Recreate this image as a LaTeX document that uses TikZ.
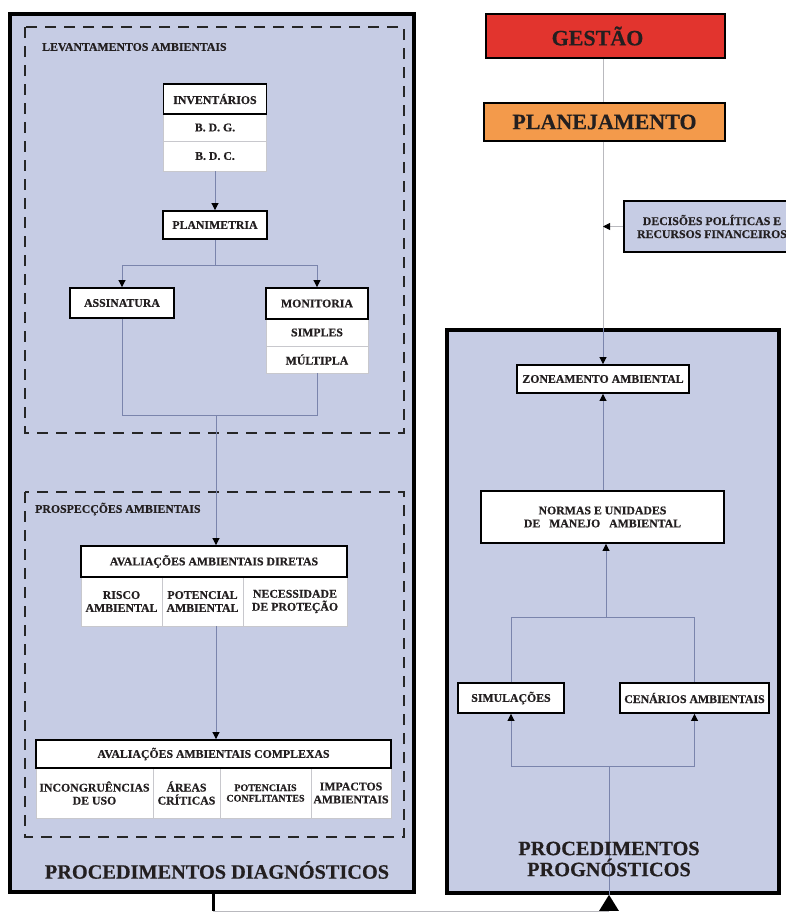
\documentclass[tikz,border=0pt]{standalone}
\usepackage{fontspec}
\setmainfont{Liberation Serif}[BoldFeatures={FakeBold=0.5}]
\usetikzlibrary{arrows.meta}
\definecolor{panelc}{RGB}{198,204,228}
\definecolor{linec}{RGB}{122,132,172}
\definecolor{lightc}{RGB}{185,185,190}
\definecolor{cellc}{RGB}{200,200,205}
\definecolor{textc}{RGB}{35,31,32}
\definecolor{redc}{RGB}{226,52,46}
\definecolor{orangec}{RGB}{243,154,75}
\newcommand\lab{\fontsize{11.8}{13}\selectfont\bfseries}
\newcommand\smalllab{\fontsize{10}{10.5}\selectfont\bfseries}
\newcommand\bigt{\fontsize{20.3}{21}\selectfont\bfseries}
\newcommand\huget{\fontsize{22}{24}\selectfont\bfseries}
\tikzset{
  panel/.style={draw=black, line width=3.5pt, fill=panelc, inner sep=0pt},
  dashbox/.style={draw=black!85, line width=2.4pt, dash pattern=on 11pt off 8pt},
  hbox/.style={draw=black, line width=1.8pt, fill=white, inner sep=0pt, text=textc, font=\lab, align=center},
  cellbox/.style={draw=cellc, line width=0.6pt, fill=white, inner sep=0pt, text=textc, font=\lab, align=center},
  conn/.style={draw=linec, line width=0.7pt},
  connlight/.style={draw=lightc, line width=0.8pt},
  arr/.style={conn, -{Triangle[width=7pt,length=7pt,color=black]}},
  arrlight/.style={connlight, -{Triangle[width=7pt,length=7pt,color=black]}},
  title/.style={inner sep=0pt, text=textc, font=\lab, anchor=west},
  bigtitle/.style={inner sep=0pt, text=textc, font=\bigt, align=center},
}
\begin{document}
\begin{tikzpicture}[x=1pt,y=-1pt]
\clip (0,0) rectangle (786,914);
\fill[white] (0,0) rectangle (786,914);

% panels
\node[panel, minimum width=404pt, minimum height=878pt] (lpanel) at (212,453) {};
\node[panel, minimum width=332pt, minimum height=563pt] (rpanel) at (613,611.5) {};
\draw[dashbox] (25,27) rectangle (404,433);
\draw[dashbox] (25,492) rectangle (404,837);

% titles
\node[title] (t1) at (42,47) {LEVANTAMENTOS AMBIENTAIS};
\node[title] (t2) at (35,509) {PROSPECÇÕES AMBIENTAIS};

% left boxes
\node[cellbox, minimum width=103pt, minimum height=27pt] (bdg) at (215,127.5) {B. D. G.};
\node[cellbox, minimum width=103pt, minimum height=30pt] (bdc) at (215,156) {B. D. C.};
\node[hbox, minimum width=103pt, minimum height=30pt] (inv) at (215,99) {INVENTÁRIOS};
\node[hbox, minimum width=104pt, minimum height=28pt] (plan) at (215,225) {PLANIMETRIA};
\node[hbox, minimum width=104pt, minimum height=30pt] (ass) at (122,303) {ASSINATURA};
\node[cellbox, minimum width=102pt, minimum height=27pt] (simp) at (317,332.5) {SIMPLES};
\node[cellbox, minimum width=102pt, minimum height=27pt] (mult) at (317,359.5) {MÚLTIPLA};
\node[hbox, minimum width=102pt, minimum height=31pt] (mon) at (317,303.5) {MONITORIA};

\node[cellbox, minimum width=81pt, minimum height=49pt] (risco) at (121.5,601.5) {RISCO\\AMBIENTAL};
\node[cellbox, minimum width=81pt, minimum height=49pt] (potamb) at (202.5,601.5) {POTENCIAL\\AMBIENTAL};
\node[cellbox, minimum width=104pt, minimum height=49pt] (necess) at (295,601.5) {NECESSIDADE\\DE PROTEÇÃO};
\node[hbox, minimum width=266pt, minimum height=31pt] (diretas) at (214,561.5) {AVALIAÇÕES AMBIENTAIS DIRETAS};

\node[cellbox, minimum width=117pt, minimum height=50pt] (incong) at (94.5,793) {INCONGRUÊNCIAS\\DE USO};
\node[cellbox, minimum width=67pt, minimum height=50pt] (areas) at (186.5,793) {ÁREAS\\CRÍTICAS};
\node[cellbox, minimum width=91pt, minimum height=50pt, font=\smalllab] (potconf) at (265.5,793) {POTENCIAIS\\CONFLITANTES};
\node[cellbox, minimum width=80pt, minimum height=50pt] (impact) at (351,793) {IMPACTOS\\AMBIENTAIS};
\node[hbox, minimum width=355pt, minimum height=28pt] (compl) at (213.5,754) {AVALIAÇÕES AMBIENTAIS COMPLEXAS};

% right boxes
\node[hbox, fill=redc, font=\huget, minimum width=239pt, minimum height=44pt] (gest) at (605.5,36) {GESTÃO\hspace*{16pt}};
\node[hbox, fill=orangec, font=\huget, minimum width=241pt, minimum height=38pt] (planj) at (604.5,122) {PLANEJAMENTO};
\node[hbox, fill=panelc, minimum width=176pt, minimum height=51pt] (decis) at (712,226.5) {DECISÕES POLÍTICAS E\\RECURSOS FINANCEIROS};
\node[hbox, minimum width=172pt, minimum height=28pt] (zon) at (603,379) {ZONEAMENTO AMBIENTAL};
\node[hbox, minimum width=243pt, minimum height=52pt] (normas) at (602.5,517) {NORMAS E UNIDADES\\DE\ \ \ MANEJO\ \ \ AMBIENTAL};
\node[hbox, minimum width=106pt, minimum height=30pt] (simul) at (511,698) {SIMULAÇÕES};
\node[hbox, minimum width=149pt, minimum height=30pt] (cen) at (694.5,698) {CENÁRIOS AMBIENTAIS};

% left connectors
\coordinate (lsplit) at (215,265);
\coordinate (ljoin) at (216,415);
\draw[arr] (bdc.south) -- (plan.north);
\draw[conn] (plan.south) -- (lsplit);
\draw[arr] (lsplit) -| (ass.north);
\draw[arr] (lsplit) -| (mon.north);
\draw[conn] (ass.south) |- (ljoin);
\draw[conn] (mult.south) |- (ljoin);
\draw[arr] (ljoin) -- (ljoin |- diretas.north);
\draw[arr] (ljoin |- potamb.south) -- (ljoin |- compl.north);

% right connectors
\coordinate (vx) at (603,0);
\draw[connlight] (vx |- gest.south) -- (vx |- planj.north);
\draw[connlight] (vx |- planj.south) -- (vx |- rpanel.north);
\draw[arr] (vx |- rpanel.north) -- (vx |- zon.north);
\draw[arrlight] (decis.west) -- (vx |- decis.west);
\draw[arr] (vx |- normas.north) -- (vx |- zon.south);
\coordinate (rsplit) at (606,617);
\draw[arr] (rsplit) -- (rsplit |- normas.south);
\draw[conn] (simul.north) |- (rsplit);
\draw[conn] (cen.north) |- (rsplit);
\coordinate (rjoin) at (609,766);
\draw[arr] (rjoin) -| (simul.south);
\draw[arr] (rjoin) -| (cen.south);
\draw[conn] (rjoin) -- (rjoin |- rpanel.south);

% bottom link
\coordinate (b1) at (213,911);
\coordinate (b2) at (609,911);
\draw[line width=3pt] (b1 |- lpanel.south) -- (b1);
\draw[connlight] (b1) -- (b2);
\draw[line width=2.5pt, -{Triangle[width=19pt,length=16pt]}] (b2) -- (b2 |- rpanel.south);

% big titles
\node[bigtitle] (diag) at (217,870) {PROCEDIMENTOS DIAGNÓSTICOS};
\node[bigtitle] (prog) at (609,859) {PROCEDIMENTOS\\PROGNÓSTICOS};
\end{tikzpicture}
\end{document}
